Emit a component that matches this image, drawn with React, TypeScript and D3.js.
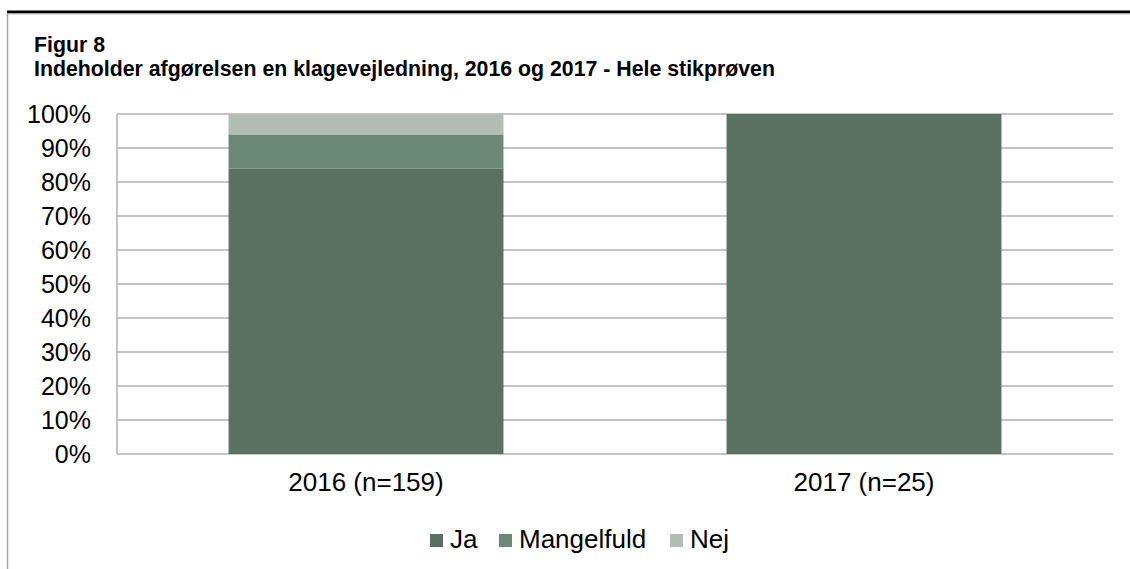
import React from "react";
import * as d3 from "d3";

const categories = ["2016 (n=159)", "2017 (n=25)"];
const seriesNames = ["Ja", "Mangelfuld", "Nej"];
const jaValues = [84, 100];
const mangelfuldValues = [10, 0];
const nejValues = [6, 0];
const yTicks = [0, 10, 20, 30, 40, 50, 60, 70, 80, 90, 100];
const colors = ["#5a7062", "#6b8878", "#b3bdb5"];

const W = 1130;
const H = 569;
const left = 117;
const right = 1113;
const top = 114;
const bottom = 454;
const font = "Arial, 'Liberation Sans', sans-serif";

export default function App() {
  const x = d3.scaleBand<string>().domain(categories).range([left, right]).paddingInner(0.448).paddingOuter(0.224);
  const y = d3.scaleLinear().domain([0, 100]).range([bottom, top]);
  const rows = categories.map((c, i) => ({ cat: c, Ja: jaValues[i], Mangelfuld: mangelfuldValues[i], Nej: nejValues[i] }));
  const stacked = d3.stack<any>().keys(seriesNames)(rows);

  const legendItems = [
    { name: "Ja", sx: 430, tx: 450 },
    { name: "Mangelfuld", sx: 499, tx: 519 },
    { name: "Nej", sx: 670, tx: 690 },
  ];

  return (
    <svg width={W} height={H} style={{ position: "absolute", left: 0, top: 0, background: "#fff" }} fontFamily={font}>
      <rect x={0} y={0} width={W} height={H} fill="#fff" />
      <line x1={7} x2={W} y1={12} y2={12} stroke="#000" strokeWidth={3} />
      <line x1={7} x2={W} y1={14} y2={14} stroke="#c8c8c8" strokeWidth={1} />
      <line x1={7.5} x2={7.5} y1={13} y2={H} stroke="#a8a8a8" strokeWidth={1.5} />
      <text x={34} y={52} fontSize={21.3} fontWeight="bold" fill="#000">Figur 8</text>
      <text x={34} y={76} fontSize={21.3} fontWeight="bold" fill="#000">
        Indeholder afgørelsen en klagevejledning, 2016 og 2017 - Hele stikprøven
      </text>
      {yTicks.map((t) => (
        <g key={t}>
          <line x1={left} x2={right} y1={y(t)} y2={y(t)} stroke="#b0b0b0" strokeWidth={1.5} />
          <text x={91} y={y(t) + 9} textAnchor="end" fontSize={25} fill="#000">{t}%</text>
        </g>
      ))}
      <line x1={left} x2={left} y1={top} y2={bottom} stroke="#b0b0b0" strokeWidth={1.5} />
      {stacked.map((s, si) => (
        <g key={s.key} fill={colors[si]}>
          {s.map((d, i) =>
            d[1] - d[0] > 0 ? (
              <rect key={i} x={x(categories[i])} width={x.bandwidth()} y={y(d[1])} height={y(d[0]) - y(d[1])} />
            ) : null
          )}
        </g>
      ))}
      {categories.map((c) => (
        <text key={c} x={(x(c) as number) + x.bandwidth() / 2} y={491} textAnchor="middle" fontSize={26} fill="#000">{c}</text>
      ))}
      {legendItems.map((l, i) => (
        <g key={l.name}>
          <rect x={l.sx} y={534} width={13} height={13} fill={colors[i]} />
          <text x={l.tx} y={548} fontSize={26} fill="#000">{l.name}</text>
        </g>
      ))}
    </svg>
  );
}
